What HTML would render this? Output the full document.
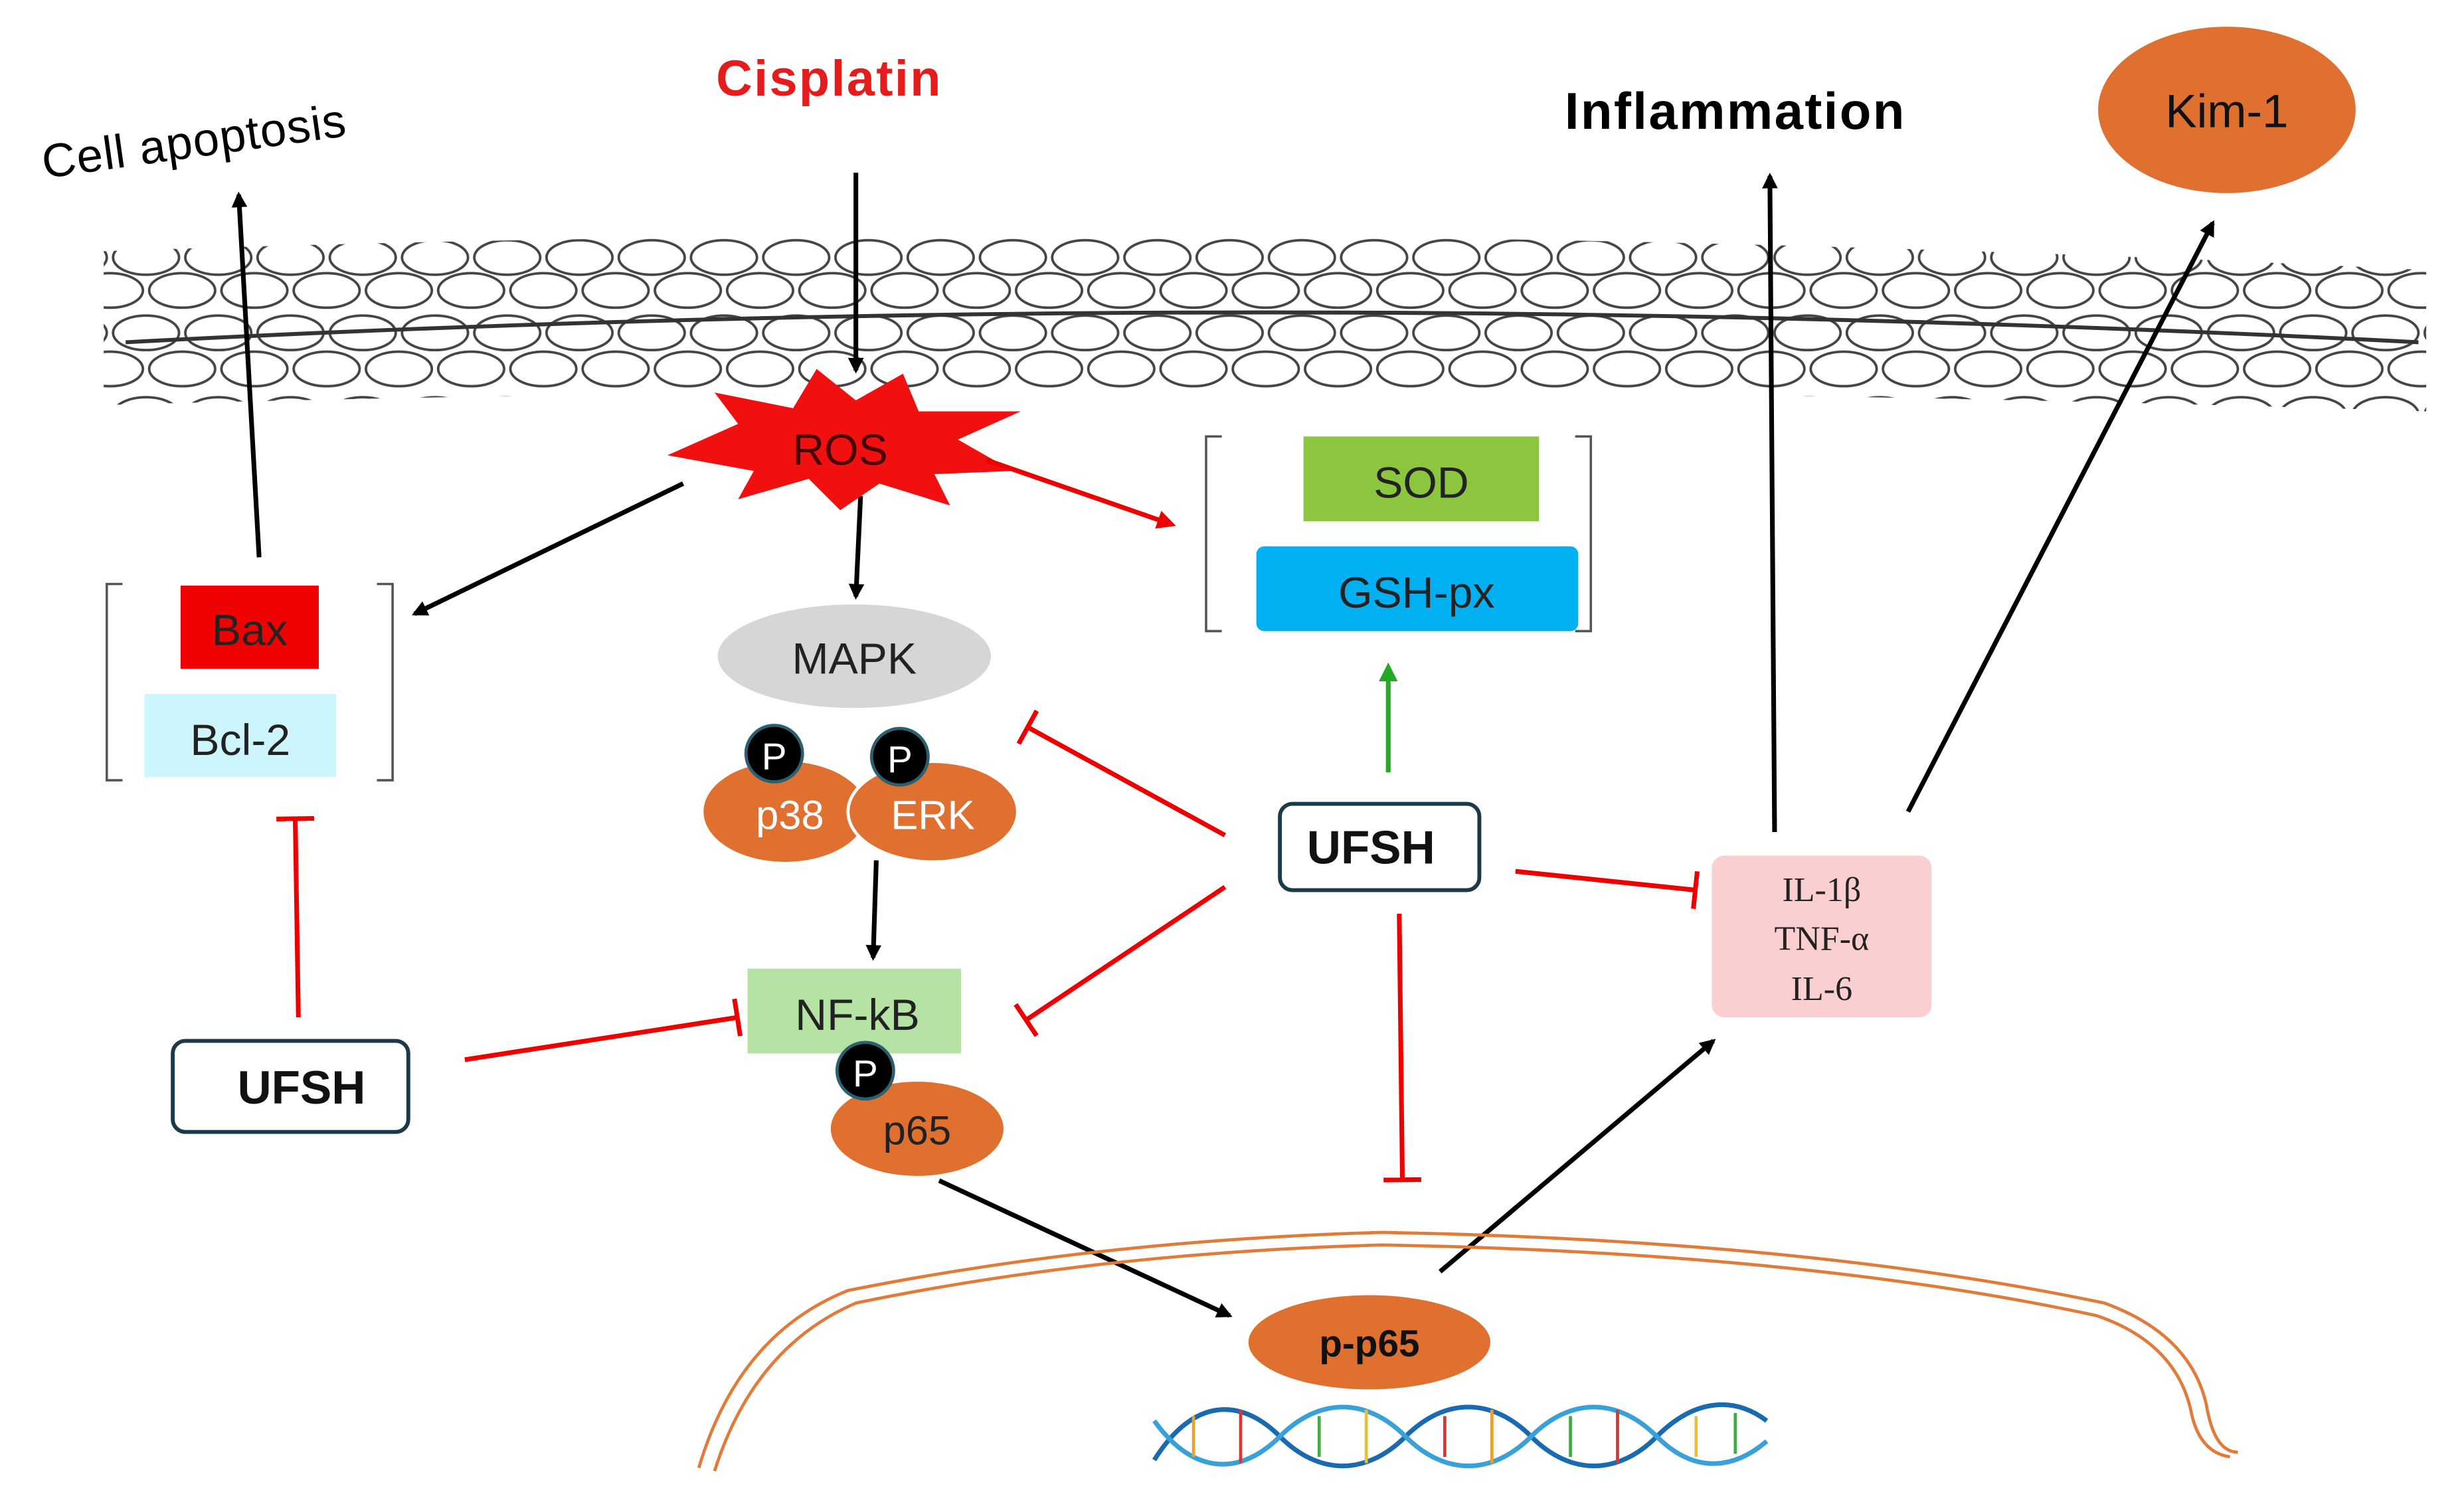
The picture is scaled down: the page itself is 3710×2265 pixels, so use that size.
<!DOCTYPE html>
<html><head><meta charset="utf-8"><style>
html,body{margin:0;padding:0;background:#fff;}
svg{display:block;}
text{font-family:"Liberation Sans",sans-serif;}
</style></head><body>
<svg width="3710" height="2265" viewBox="0 0 1569 958" preserveAspectRatio="none" xmlns="http://www.w3.org/2000/svg">
<defs>
<pattern id="mem" x="70" y="150" width="46" height="100" patternUnits="userSpaceOnUse">
<g fill="#fff" stroke="#444" stroke-width="1.6">
<ellipse cx="23" cy="14" rx="21" ry="11"/>
<ellipse cx="0" cy="35" rx="21" ry="11"/>
<ellipse cx="46" cy="35" rx="21" ry="11"/>
<ellipse cx="23" cy="62" rx="21" ry="11"/>
<ellipse cx="0" cy="85" rx="21" ry="11"/>
<ellipse cx="46" cy="85" rx="21" ry="11"/>
</g>
</pattern>
<clipPath id="mc"><path d="M66,160 Q800,135 1545,172 L1545,262 Q800,238 66,258 Z"/></clipPath>
<marker id="ab" markerWidth="10" markerHeight="10" refX="8" refY="5" orient="auto" markerUnits="userSpaceOnUse"><path d="M0,0 L10,5 L0,10 Z" fill="#000"/></marker>
<marker id="ar" markerWidth="12" markerHeight="12" refX="9" refY="6" orient="auto" markerUnits="userSpaceOnUse"><path d="M0,0 L12,6 L0,12 Z" fill="#e00"/></marker>
<marker id="ag" markerWidth="12" markerHeight="12" refX="9" refY="6" orient="auto" markerUnits="userSpaceOnUse"><path d="M0,0 L12,6 L0,12 Z" fill="#2a2"/></marker>
<marker id="tb" markerWidth="4" markerHeight="24" refX="2" refY="12" orient="auto" markerUnits="userSpaceOnUse"><rect x="0" y="0" width="3" height="24" fill="#e00"/></marker>
</defs>

<rect x="60" y="140" width="1490" height="130" fill="url(#mem)" clip-path="url(#mc)"/>
<path d="M80,218 Q800,180 1540,218" fill="none" stroke="#333" stroke-width="2.5"/>

<text x="528" y="61" font-size="32" font-weight="bold" fill="#e41c1c" text-anchor="middle" letter-spacing="1">Cisplatin</text>
<text x="125" y="100" font-size="30" fill="#000" text-anchor="middle" transform="rotate(-8 125 100)" letter-spacing="0.5">Cell apoptosis</text>
<text x="1105" y="82" font-size="33" font-weight="bold" fill="#000" text-anchor="middle" letter-spacing="1">Inflammation</text>
<ellipse cx="1418" cy="70" rx="82" ry="53" fill="#e07030"/>
<text x="1418" y="81" font-size="30" text-anchor="middle" fill="#111">Kim-1</text>

<g stroke="#000" stroke-width="3" fill="none" marker-end="url(#ab)">
<line x1="545" y1="110" x2="545" y2="236"/>
<line x1="435" y1="308" x2="264" y2="391"/>
<line x1="548" y1="316" x2="545" y2="380"/>
<line x1="165" y1="355" x2="152" y2="124"/>
<line x1="558" y1="548" x2="556" y2="610"/>
<line x1="598" y1="752" x2="783" y2="838"/>
<line x1="917" y1="810" x2="1091" y2="663"/>
<line x1="1130" y1="530" x2="1127" y2="112"/>
<line x1="1215" y1="517" x2="1409" y2="142"/>
</g>

<polygon points="425,290 470,270 455,250 505,260 520,235 545,255 575,238 585,262 650,262 610,280 645,300 595,302 605,322 560,308 535,325 515,305 470,318 480,300" fill="#f01010"/>
<text x="535" y="296" font-size="28" text-anchor="middle" fill="#400">ROS</text>
<line x1="628" y1="293" x2="746" y2="334" stroke="#e00" stroke-width="3" marker-end="url(#ar)"/>

<path d="M78,372 H68 V497 H78 M240,372 H250 V497 H240" fill="none" stroke="#555" stroke-width="1.5"/>
<rect x="115" y="373" width="88" height="53" fill="#f00000"/>
<text x="159" y="411" font-size="28" text-anchor="middle" fill="#222">Bax</text>
<rect x="92" y="442" width="122" height="53" fill="#ccf6fb"/>
<text x="153" y="481" font-size="28" text-anchor="middle" fill="#222">Bcl-2</text>

<path d="M778,278 H768 V402 H778 M1003,278 H1013 V402 H1003" fill="none" stroke="#555" stroke-width="1.5"/>
<rect x="830" y="278" width="150" height="54" fill="#8cc63f"/>
<text x="905" y="317" font-size="28" text-anchor="middle" fill="#222">SOD</text>
<rect x="800" y="348" width="205" height="54" rx="5" fill="#00b0f0"/>
<text x="902" y="387" font-size="28" text-anchor="middle" fill="#222">GSH-px</text>

<ellipse cx="544" cy="418" rx="87" ry="33" fill="#d6d6d6"/>
<text x="544" y="429" font-size="28" text-anchor="middle" fill="#222">MAPK</text>
<ellipse cx="500" cy="517" rx="52" ry="32" fill="#e07030"/>
<ellipse cx="594" cy="517" rx="54" ry="32" fill="#e07030" stroke="#fff" stroke-width="2"/>
<text x="503" y="528" font-size="26" text-anchor="middle" fill="#fff">p38</text>
<text x="594" y="528" font-size="26" text-anchor="middle" fill="#fff">ERK</text>
<circle cx="493" cy="480" r="18" fill="#000" stroke="#2a6070" stroke-width="2"/>
<text x="493" y="490" font-size="24" text-anchor="middle" fill="#fff">P</text>
<circle cx="573" cy="482" r="18" fill="#000" stroke="#2a6070" stroke-width="2"/>
<text x="573" y="492" font-size="24" text-anchor="middle" fill="#fff">P</text>

<rect x="476" y="617" width="136" height="54" fill="#b5e3a4"/>
<text x="546" y="656" font-size="28" text-anchor="middle" fill="#222">NF-kB</text>
<ellipse cx="584" cy="719" rx="55" ry="30" fill="#e07030"/>
<text x="584" y="729" font-size="26" text-anchor="middle" fill="#222">p65</text>
<circle cx="551" cy="682" r="18" fill="#000" stroke="#2a6070" stroke-width="2"/>
<text x="551" y="692" font-size="24" text-anchor="middle" fill="#fff">P</text>

<rect x="110" y="663" width="150" height="58" rx="8" fill="#fff" stroke="#1a3a4a" stroke-width="2.5"/>
<text x="192" y="703" font-size="30" font-weight="bold" text-anchor="middle" fill="#111">UFSH</text>
<rect x="815" y="512" width="127" height="55" rx="8" fill="#fff" stroke="#1a3a4a" stroke-width="2.5"/>
<text x="873" y="550" font-size="30" font-weight="bold" text-anchor="middle" fill="#111">UFSH</text>

<g stroke="#e00" stroke-width="3" fill="none" marker-end="url(#tb)">
<line x1="296" y1="675" x2="470" y2="648"/>
<line x1="190" y1="648" x2="188" y2="521"/>
<line x1="780" y1="532" x2="654" y2="463"/>
<line x1="780" y1="565" x2="653" y2="650"/>
<line x1="965" y1="555" x2="1080" y2="567"/>
<line x1="891" y1="582" x2="893" y2="752"/>
</g>
<line x1="884" y1="492" x2="884" y2="425" stroke="#2a2" stroke-width="3" marker-end="url(#ag)"/>

<rect x="1090" y="545" width="140" height="103" rx="8" fill="#f9cfcf"/>
<g font-size="22" text-anchor="middle" fill="#222">
<text x="1160" y="574" style="font-family:'Liberation Serif',serif">IL-1β</text>
<text x="1160" y="605" style="font-family:'Liberation Serif',serif">TNF-α</text>
<text x="1160" y="637" style="font-family:'Liberation Serif',serif">IL-6</text>
</g>

<path d="M445,935 Q470,850 540,822 Q700,790 880,785 Q1150,790 1340,830 Q1395,850 1405,895 Q1410,925 1425,925" fill="none" stroke="#e07b39" stroke-width="2"/>
<path d="M455,937 Q480,858 545,830 Q700,798 880,793 Q1150,798 1335,838 Q1385,855 1395,898 Q1400,925 1420,928" fill="none" stroke="#e07b39" stroke-width="2"/>
<ellipse cx="872" cy="855" rx="77" ry="30" fill="#e07030"/>
<text x="872" y="864" font-size="24" font-weight="bold" text-anchor="middle" fill="#111">p-p65</text>

<g stroke-width="3" fill="none">
<path d="M735,930 C760,890 790,890 815,915 C840,940 870,940 895,915 C920,890 950,890 975,915 C1000,940 1030,940 1055,915 C1080,890 1105,890 1125,905" stroke="#1a6ab0"/>
<path d="M735,905 C760,940 790,940 815,915 C840,890 870,890 895,915 C920,940 950,940 975,915 C1000,890 1030,890 1055,915 C1080,940 1105,935 1125,918" stroke="#3aa0d8"/>
</g>
<g stroke-width="2">
<line x1="760" y1="902" x2="760" y2="928" stroke="#e8a030"/><line x1="790" y1="898" x2="790" y2="932" stroke="#d33"/>
<line x1="840" y1="902" x2="840" y2="928" stroke="#4a4"/><line x1="870" y1="898" x2="870" y2="932" stroke="#e8c030"/>
<line x1="920" y1="902" x2="920" y2="928" stroke="#d33"/><line x1="950" y1="898" x2="950" y2="932" stroke="#e8a030"/>
<line x1="1000" y1="902" x2="1000" y2="928" stroke="#4a4"/><line x1="1030" y1="898" x2="1030" y2="932" stroke="#d33"/>
<line x1="1080" y1="902" x2="1080" y2="928" stroke="#e8c030"/><line x1="1105" y1="900" x2="1105" y2="926" stroke="#4a4"/>
</g>
</svg>
</body></html>
